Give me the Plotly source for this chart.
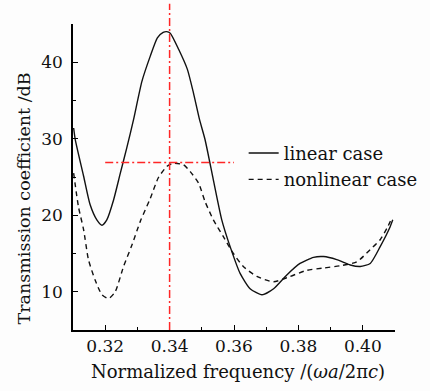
import plotly.graph_objects as go

# Normalized frequency (ωa/2πc) and transmission coefficient (dB)
linear_freq = [0.3102, 0.3107, 0.3133, 0.3153, 0.3174, 0.3190, 0.3205, 0.3226, 0.3247,
               0.3267, 0.3288, 0.3314, 0.3340, 0.3362, 0.3380, 0.3391, 0.3402, 0.3428,
               0.3455, 0.3474, 0.3493, 0.3510, 0.3536, 0.3562, 0.3588, 0.3619, 0.3650,
               0.3687, 0.3723, 0.3764, 0.3805, 0.3847, 0.3878, 0.3919, 0.3961, 0.3992,
               0.4023, 0.4054, 0.4085, 0.4093]
linear_db = [31.4, 29.9, 25.1, 21.4, 19.4, 18.7, 19.4, 22.0, 25.5,
             28.8, 32.5, 37.5, 40.8, 43.2, 43.9, 44.0, 43.8, 41.7,
             39.1, 36.0, 32.5, 29.9, 24.6, 19.4, 15.9, 12.4, 10.4,
             9.6, 10.4, 12.2, 13.7, 14.5, 14.6, 14.2, 13.5, 13.3,
             13.7, 15.9, 18.5, 19.4]

nonlinear_freq = [0.3102, 0.3117, 0.3133, 0.3148, 0.3169, 0.3190, 0.3210, 0.3231, 0.3257,
                  0.3283, 0.3309, 0.3340, 0.3365, 0.3392, 0.3412, 0.3443, 0.3464, 0.3490,
                  0.3510, 0.3536, 0.3567, 0.3598, 0.3629, 0.3671, 0.3723, 0.3774, 0.3826,
                  0.3878, 0.3930, 0.3981, 0.4023, 0.4054, 0.4075, 0.4090]
nonlinear_db = [25.5, 21.1, 18.1, 14.2, 11.5, 9.6, 9.1, 10.0, 13.3,
                16.1, 19.2, 22.2, 24.9, 26.4, 26.8, 26.6, 25.7, 24.2,
                21.8, 19.4, 17.2, 15.0, 13.3, 12.0, 11.3, 12.0, 12.8,
                13.1, 13.4, 13.9, 15.5, 16.8, 18.3, 19.6]

# Resonance marker: peak frequency and the nonlinear peak level
peak_freq = 0.34
nonlinear_peak_db = 26.9
marker_span = [0.32, 0.36]

x_range = [0.31, 0.41]
y_range = [5, 45]
x_ticks = [0.32, 0.34, 0.36, 0.38, 0.40]
x_tick_text = ["0.32", "0.34", "0.36", "0.38", "0.40"]
y_ticks = [10, 20, 30, 40]
y_tick_text = ["10", "20", "30", "40"]

FONT = "DejaVu Serif"
RED = "#ff2626"
INK = "#111111"

fig = go.Figure()
fig.add_trace(go.Scatter(
    x=linear_freq, y=linear_db, mode="lines", name="linear case",
    line=dict(color=INK, width=1.4, shape="spline", smoothing=0.6),
))
fig.add_trace(go.Scatter(
    x=nonlinear_freq, y=nonlinear_db, mode="lines", name="nonlinear case",
    line=dict(color=INK, width=1.4, dash="5px,4px", shape="spline", smoothing=0.6),
))

# Dash-dot guide lines through the resonance peak
fig.add_shape(type="line", xref="x", yref="paper",
              x0=peak_freq, x1=peak_freq, y0=0, y1=1.066,
              line=dict(color=RED, width=1.5, dash="8px,3px,2px,3px"))
fig.add_shape(type="line", xref="x", yref="y",
              x0=marker_span[0], x1=marker_span[1],
              y0=nonlinear_peak_db, y1=nonlinear_peak_db,
              line=dict(color=RED, width=1.5, dash="8px,3px,2px,3px"))

axis_common = dict(
    showline=True, linecolor="black", linewidth=1.5, mirror=False,
    showgrid=False, zeroline=False,
    ticks="inside", ticklen=5, tickwidth=1.2, tickcolor="black",
    tickfont=dict(family=FONT, size=17, color=INK),
)

fig.update_xaxes(range=x_range, tickvals=x_ticks, ticktext=x_tick_text,
                 minor=dict(dtick=0.01, tick0=0.31, ticks="inside", ticklen=3,
                            tickwidth=1, tickcolor="black"),
                 **axis_common)
fig.update_yaxes(range=y_range, tickvals=y_ticks, ticktext=y_tick_text,
                 minor=dict(dtick=5, tick0=5, ticks="inside", ticklen=3,
                            tickwidth=1, tickcolor="black"),
                 ticklabelstandoff=5,
                 **axis_common)

fig.add_annotation(text="Normalized frequency /(<i>ωa</i>/2π<i>c</i>)",
                   xref="paper", yref="paper", x=0.511, y=-0.137,
                   xanchor="center", yanchor="middle", showarrow=False,
                   font=dict(family=FONT, size=18, color=INK))
fig.add_annotation(text="Transmission coefficient /dB",
                   xref="paper", yref="paper", x=-0.152, y=0.43,
                   xanchor="center", yanchor="middle", showarrow=False,
                   textangle=-90,
                   font=dict(family=FONT, size=17.5, color=INK))

fig.update_layout(
    width=430, height=391,
    margin=dict(l=73, r=35, t=24, b=61, autoexpand=False),
    paper_bgcolor="#fdfdfd", plot_bgcolor="#fdfdfd",
    showlegend=True,
    legend=dict(x=0.53, y=0.638, xanchor="left", yanchor="top",
                bgcolor="rgba(0,0,0,0)", borderwidth=0,
                font=dict(family=FONT, size=18, color=INK),
                tracegroupgap=0, itemwidth=30),
)

fig.write_html("out.html")
